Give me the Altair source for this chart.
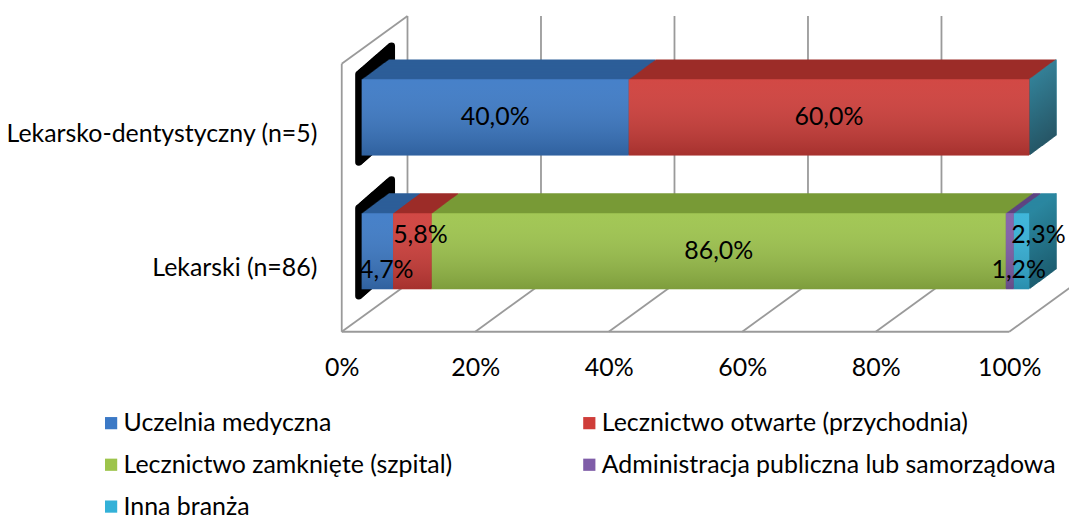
import altair as alt
import pandas as pd

# ---------------- data ----------------
categories = ["Lekarsko-dentystyczny (n=5)", "Lekarski (n=86)"]
series = [
    "Uczelnia medyczna",
    "Lecznictwo otwarte (przychodnia)",
    "Lecznictwo zamknięte (szpital)",
    "Administracja publiczna lub samorządowa",
    "Inna branża",
]
share_dent = [40.0, 60.0, 0.0, 0.0, 0.0]
share_lek = [4.7, 5.8, 86.0, 1.2, 2.3]
x_ticks = [0.0, 0.2, 0.4, 0.6, 0.8, 1.0]

# ---------------- style ----------------
front_colors = ["#3B79C6", "#CF3D39", "#9DC44B", "#7F5DA8", "#33B1D8"]
top_colors = ["#2C5E98", "#9C2C29", "#789A37", "#5E4482", "#2A86A0"]
FONT = "Lato"
FS = 25
GRID = "#9a9a9a"
DEPTH_X = 27
DEPTH_Y = 20

rows = []
for cat, shares in zip(categories, [share_dent, share_lek]):
    acc = 0.0
    for s, v in zip(series, shares):
        rows.append({"cat": cat, "series": s, "value": v,
                     "start": acc / 100.0, "end": (acc + v) / 100.0})
        acc += v
df = pd.DataFrame(rows)
bars = df[df["value"] > 0].reset_index(drop=True)
ends = (df.groupby("cat", sort=False)
          .agg(start=("start", "min"), end=("end", "max"))
          .reset_index())
ticks = pd.DataFrame({"v": x_ticks})
edge = pd.DataFrame({"a": [x_ticks[0]], "b": [x_ticks[-1]]})

xscale = alt.Scale(domain=[0, 1], nice=False, zero=True)
yscale = alt.Scale(domain=categories, paddingInner=0.431, paddingOuter=0.474)
xaxis = alt.Axis(values=x_ticks, format=".0%", title=None, grid=False, ticks=False,
                 domain=False, labelFont=FONT, labelFontSize=FS, labelColor="black",
                 labelPadding=3, labelOffset=-20, labelFlush=False)
yaxis = alt.Axis(title=None, ticks=False, domain=False, grid=False, labelFont=FONT,
                 labelFontSize=FS, labelColor="black", labelPadding=45,
                 labelOffset=17, labelLimit=500)


def X(f):
    return alt.X(f, type="quantitative", scale=xscale, axis=xaxis)


def Y():
    return alt.Y("cat:N", scale=yscale, axis=yaxis, sort=categories)


layers = []

# ---- 3D frame (walls / floor) ----
line = dict(color=GRID, strokeWidth=1.8)
layers.append(alt.Chart(ticks).mark_rule(xOffset=46, **line).encode(
    x=X("v"), y=alt.value(0), y2=alt.value(269)))
layers.append(alt.Chart(ticks).mark_rule(xOffset=-20, x2Offset=46, **line).encode(
    x=X("v"), x2=alt.X2("v"), y=alt.value(317), y2=alt.value(269)))
layers.append(alt.Chart(edge).mark_rule(xOffset=-20, x2Offset=-20, **line).encode(
    x=X("a"), x2=alt.X2("b"), y=alt.value(317), y2=alt.value(317)))
layers.append(alt.Chart(edge).mark_rule(xOffset=-20, **line).encode(
    x=X("a"), y=alt.value(48), y2=alt.value(317)))
layers.append(alt.Chart(edge).mark_rule(xOffset=-20, x2Offset=46, **line).encode(
    x=X("a"), x2=alt.X2("a"), y=alt.value(48), y2=alt.value(0)))

# ---- black left side shapes ----
for k in range(0, 34):
    layers.append(alt.Chart(ends).mark_bar(
        fill="black", stroke="black", strokeWidth=7, strokeJoin="round",
        height=88, xOffset=k - 3, x2Offset=k - 3, yOffset=-k * 0.87 + 1
    ).encode(x=X("start"), x2=alt.X2("start"), y=Y()))

# ---- top faces ----
for k in range(DEPTH_X, 0, -1):
    layers.append(alt.Chart(bars).mark_bar(
        xOffset=k, x2Offset=k, yOffset=-k * DEPTH_Y / DEPTH_X
    ).encode(
        x=X("start"), x2=alt.X2("end"), y=Y(),
        color=alt.Color("series:N", scale=alt.Scale(domain=series, range=top_colors),
                        legend=None)))

# ---- right side faces ----
side_grad = alt.LinearGradient(
    gradient="linear", x1=0, x2=0, y1=0, y2=1,
    stops=[alt.GradientStop(color="#2A87A0", offset=0),
           alt.GradientStop(color="#1B5A6C", offset=1)])
for k in range(1, DEPTH_X + 1):
    layers.append(alt.Chart(ends).mark_bar(
        fill=side_grad, xOffset=k - 0.7, x2Offset=k + 0.7,
        yOffset=-k * DEPTH_Y / DEPTH_X
    ).encode(x=X("end"), x2=alt.X2("end"), y=Y()))

# ---- front faces ----
legend = alt.Legend(orient="none", legendX=-264, legendY=396, columns=2,
                    direction="horizontal", columnPadding=124, rowPadding=16,
                    symbolType="square", symbolSize=150, symbolStrokeWidth=0,
                    labelFont=FONT, labelFontSize=FS, labelColor="black",
                    labelLimit=600, labelOffset=0, title=None, padding=0)
layers.append(alt.Chart(bars).mark_bar().encode(
    x=X("start"), x2=alt.X2("end"), y=Y(),
    color=alt.Color("series:N", scale=alt.Scale(domain=series, range=front_colors),
                    legend=legend)))

shade = alt.LinearGradient(
    gradient="linear", x1=0, x2=0, y1=0, y2=1,
    stops=[alt.GradientStop(color="rgba(255,255,255,0.06)", offset=0),
           alt.GradientStop(color="rgba(0,0,0,0.2)", offset=1)])
layers.append(alt.Chart(bars).mark_bar(fill=shade).encode(
    x=X("start"), x2=alt.X2("end"), y=Y()))

# ---- value labels ----
lab = alt.Chart(bars).transform_calculate(
    mid="(datum.start + datum.end) / 2",
    label="replace(format(datum.value, '.1f'), '.', ',') + '%'",
)
text_style = dict(font=FONT, fontSize=FS, color="black")
layers.append(lab.transform_filter("datum.value >= 10").mark_text(**text_style).encode(
    x=X("mid:Q"), y=Y(), text="label:N"))
below = [series[0], series[3]]
above = [series[1]]
above_far = [series[4]]
for names, dx, dy in [(below, 9, 19), (above, 8, -16), (above_far, 17, -16)]:
    layers.append(lab.transform_filter("datum.value < 10").transform_filter(
        alt.FieldOneOfPredicate(field="series", oneOf=names)
    ).mark_text(dx=dx, dy=dy, **text_style).encode(
        x=X("mid:Q"), y=Y(), text="label:N"))

chart = alt.layer(*layers).resolve_scale(color="independent").properties(
    width=670, height=338,
    padding={"left": 355, "top": 7, "right": 40, "bottom": 168},
    autosize="none",
    background="white",
).configure_view(stroke=None)

chart.save("out.html", embed_options={"renderer": "svg", "actions": False})
